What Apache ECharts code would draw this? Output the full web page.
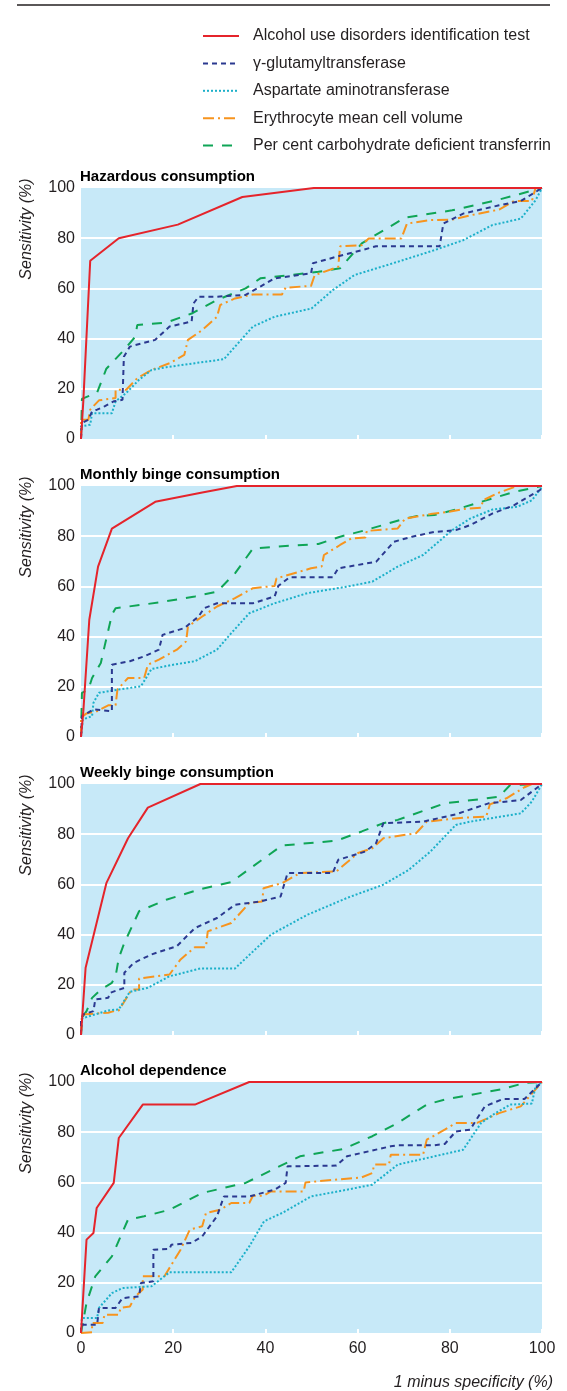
<!DOCTYPE html>
<html>
<head>
<meta charset="utf-8">
<script src="https://cdn.jsdelivr.net/npm/echarts@6/dist/echarts.min.js"></script>
<style>
html,body{margin:0;padding:0;background:#fff;}
#chart{width:567px;height:1391px;}
</style>
</head>
<body>
<div id="chart"></div>
<script>
// ---------- data ----------
const SERIES_NAMES = [
  'Alcohol use disorders identification test',
  'γ-glutamyltransferase',
  'Aspartate aminotransferase',
  'Erythrocyte mean cell volume',
  'Per cent carbohydrate deficient transferrin'
];
const PANEL_TITLES = ['Hazardous consumption', 'Monthly binge consumption', 'Weekly binge consumption', 'Alcohol dependence'];
const X_TICKS = [0, 20, 40, 60, 80, 100];
const Y_TICKS = [0, 20, 40, 60, 80, 100];
const X_TITLE = '1 minus specificity (%)';
const Y_TITLE = 'Sensitivity (%)';

// Hazardous consumption
const haz_audit = [[0,0],[0.5,15],[2,71],[8.2,80],[21,85.4],[35,96.4],[50.5,100],[100,100]];
const haz_ggt = [[0,0],[0.2,6.4],[1.6,7.7],[2.4,11],[3.5,11.7],[5.1,13],[7.1,15],[9,15.6],[9.3,32.8],[10.6,36.8],[13,38],[16.1,39.5],[19.2,44.8],[24,46.8],[24.4,54],[25.5,56.7],[29.5,56.7],[35.7,57.4],[38.9,60.7],[42,64],[49.9,66],[50.3,70],[55.4,72.6],[60.9,75.2],[64,76.8],[77.8,76.8],[78.6,85.8],[82.9,89.8],[90.7,93.1],[95.4,94.8],[100,100]];
const haz_ast = [[0,0],[0,5],[2,5.7],[2.4,10.3],[6.7,10.3],[7.5,15],[9.8,18.3],[12.6,23.6],[15.3,27.5],[18.5,28.6],[24.7,30.2],[31,31.8],[33.4,36.8],[37.3,44.8],[42,48.7],[50,52],[54.6,59.3],[59.3,65.3],[68.7,70.6],[76.6,75.2],[82.9,79.2],[89.2,85.2],[95.4,87.8],[98.6,95.1],[100,100]];
const haz_mcv = [[0,0],[0,7.7],[1.6,7.7],[2,11.7],[3.9,15.4],[7.5,16.3],[7.5,19.6],[9.8,19.6],[12.2,24.2],[15.3,27.5],[19.2,30.2],[22.4,33.5],[23.2,39.5],[26.3,43.4],[29.5,48.7],[30.2,53.4],[33.4,56],[37.3,57.6],[43.6,57.6],[44.4,60.3],[49.9,61],[50.7,65.3],[55.8,68.6],[56.2,76.8],[60.9,77.2],[62.4,79.9],[69.5,79.9],[70.7,85.8],[75.8,87.2],[80.5,87.4],[84.4,89.1],[90.7,91.4],[93.9,94.8],[97.8,94.8],[98.6,100],[100,100]];
const haz_cdt = [[0,0],[0.2,16],[3.5,18.5],[5.5,28],[9,34.8],[11.8,40.8],[12.2,45.4],[18.5,46.4],[24,50],[29.5,55.4],[35.7,60],[38.9,64],[45.2,65.3],[51.5,66.6],[56.2,68],[60.9,77.9],[63.2,80.5],[70.3,88.2],[80.5,91.1],[90.7,95.4],[100,100]];

// Monthly binge consumption
const mon_audit = [[0,0],[0.5,10],[1.8,46.7],[3.7,67.9],[6.7,83],[16.1,93.7],[26.3,97.4],[33.8,100],[100,100]];
const mon_ggt = [[0,0],[0.2,8.3],[2.7,11],[6.7,10.3],[6.7,28.8],[10.6,30.2],[13.7,32.1],[16.9,34.8],[17.7,40.7],[22.4,43.4],[25.5,48],[26.7,51.3],[29.5,53.3],[37.3,53.3],[42,56],[42.8,60.2],[45.2,63.6],[54.6,63.6],[55.8,67.2],[64,69.8],[67.9,77.8],[71.8,79.8],[76.6,81.7],[81.3,82.4],[84.4,84.4],[89.2,89],[93.9,92.3],[100,98.9]];
const mon_ast = [[0,0],[0.4,7],[2.4,8.3],[2.7,13.6],[3.9,17.6],[8.2,18.9],[13,20.2],[15.3,27.1],[20,28.8],[24.7,30.2],[29.5,34.8],[32.6,41.4],[36.5,49.3],[42,53.3],[49.1,57.3],[57.7,59.9],[63.2,61.9],[68.7,67.9],[74.2,72.5],[80.5,82.4],[84.4,87],[89.2,90.6],[94.6,91.7],[97.8,94.3],[100,99.6]];
const mon_mcv = [[0,0],[0,7.7],[1.2,9.4],[3.5,10.3],[5.9,12.6],[7.5,12.6],[7.9,18.9],[10.2,23.5],[13.7,23.5],[14.5,28.8],[16.9,30.8],[20.8,34.8],[22.8,38.1],[23.2,44],[26.3,48],[29.5,52],[33.4,55.3],[37.3,59.3],[42,60.2],[42.4,63.2],[49.9,67.2],[52.2,67.9],[52.7,72.5],[56.2,76.5],[58.6,79.1],[61.7,79.5],[62,82.1],[68.7,83.1],[70.3,87],[75.8,88.8],[79.7,89.7],[83.6,91],[86.8,91.3],[87.2,94.3],[90.7,97.4],[94.6,100],[100,100]];
const mon_cdt = [[0,0],[0.2,17.6],[1.6,18.9],[2.4,23.5],[4.3,29.5],[5.1,36],[6.7,48.7],[7.5,51.3],[16.9,53.6],[24.7,56],[29.5,57.9],[33.4,65.2],[37.3,75.1],[43.6,76],[51.5,76.9],[56.2,79.8],[61.7,82.4],[69.5,86.6],[72.7,88],[76.6,88.4],[82,91],[86.8,93.7],[93.9,97.6],[100,100]];

// Weekly binge consumption
const wk_audit = [[0,0],[1,26.8],[5.5,60.5],[10.2,78.4],[14.5,90.6],[25.9,100],[100,100]];
const wk_ggt = [[0,0],[0,5.6],[0.4,8.2],[2.7,9.5],[3.1,14.2],[5.9,14.8],[6.3,16.8],[9.4,18.8],[9.4,24.8],[11.4,28.7],[15.3,32.1],[20.8,35.4],[24.7,42.6],[29.5,46.6],[33.4,51.9],[38.9,53.2],[43.3,55.2],[44.8,64.5],[54.6,64.5],[55.8,69.8],[61.7,73.1],[64,76.4],[65.6,84.4],[74.2,85],[81.3,87.9],[85.2,90.3],[88.4,92.3],[95.4,93.6],[100,100]];
const wk_ast = [[0,0],[0.2,6.6],[5.9,9.8],[8.2,10.2],[10.6,17.2],[14.5,18.8],[19.2,23.4],[25.9,26.5],[33.4,26.5],[41.2,40],[49.1,47.9],[57.7,54.6],[65.6,59.9],[71.1,65.8],[75.8,73.1],[81.3,83.7],[84.4,85],[95.4,88.3],[97.8,93],[100,100]];
const wk_mcv = [[0,0],[0.2,8.2],[5.9,8.9],[7.1,9.5],[8.2,9.8],[11,18.1],[12.6,18.1],[12.6,22.5],[19.2,24.1],[21.6,30.1],[24.7,35],[27.1,35],[27.5,41.3],[32.6,44.6],[36.5,52.6],[39.3,53.2],[39.6,58.5],[43.6,60.5],[47.5,64.5],[55.4,65.2],[60.1,72.5],[63.2,74.4],[65.6,78.4],[72.7,80.4],[75,85],[82.9,86.6],[87.9,87],[88.7,91.9],[92.3,94.3],[96.2,98.7],[97.8,100],[100,100]];
const wk_cdt = [[0,0],[0.2,6.9],[1.2,9.5],[2.4,14.8],[4.3,18.1],[6.7,20.8],[7.5,23.4],[8.2,30.7],[9.4,36.7],[12.6,49.3],[18.5,53.9],[26.3,58.3],[32.6,60.9],[37.3,67.2],[43.6,75.5],[55.4,77.4],[60.9,81.1],[65.6,84.4],[68.7,85.7],[78.9,92.3],[86.8,94],[90.7,95],[93.1,99.6],[100,100]];

// Alcohol dependence
const dep_audit = [[0,0],[1.2,37.2],[2.7,39.8],[3.4,49.8],[7.1,59.8],[8.2,77.7],[13.4,91],[24.7,91],[36.5,100],[100,100]];
const dep_ggt = [[0,0],[0,3.3],[3.5,3.3],[3.9,10],[7.5,10],[9,13.9],[12.6,14.6],[13,19.9],[15.7,20.6],[15.7,33.2],[19.2,33.5],[19.6,35.2],[24,35.9],[26.3,38.5],[29.5,46.5],[31,54.4],[36.5,54.4],[42,57.1],[44.4,59.8],[44.8,66.4],[55.4,66.7],[57.7,70.4],[67.2,74.4],[68.7,74.8],[76.6,74.8],[78.9,75.3],[81.3,80.3],[84.4,81],[87.6,90.3],[91.5,93.2],[96.2,93.2],[100,100]];
const dep_ast = [[0,0],[0.2,6],[3.5,6],[3.9,10],[6.7,15.9],[9,17.9],[15.3,18.6],[19.2,24.2],[32.6,24.2],[36.5,34.5],[39.7,44.5],[43.6,47.8],[49.9,54.4],[57.7,57.1],[63.2,59.1],[68.7,67.1],[75,69.7],[82.9,73],[86.8,83.7],[89.9,87.6],[93.1,91],[97.8,91.4],[98.6,98.3],[100,100]];
const dep_mcv = [[0,0],[0,0.3],[2.4,0.3],[2.4,4],[4.7,4],[5.1,7.3],[8.2,7.3],[8.6,10],[10.6,10.6],[11.8,14.6],[13.4,17.3],[13.4,22.6],[18.1,22.6],[21.6,33.2],[23.6,41.2],[26.3,42.5],[27.1,47.8],[30.2,49.1],[32.6,51.8],[36.5,51.8],[37.3,54.7],[39.6,54.7],[41.2,56.4],[48.3,56.4],[48.7,60],[60.9,62],[63.2,63.7],[63.6,67.1],[66.8,67.1],[67.2,71],[74.2,71],[75,77],[78.9,81],[81.3,83.7],[85.9,83.7],[88.4,85.7],[90.7,87.6],[95.4,90.3],[100,100]];
const dep_cdt = [[0,0],[1.2,12],[3.1,22.6],[6.7,30.5],[10.2,45.2],[13.7,46.5],[19.2,49.1],[26.3,55.8],[35.7,59.8],[47.5,70.4],[56.9,73.3],[63.2,78.4],[68.7,83.7],[75,91],[78.9,93],[91.5,97.2],[96.2,99.6],[100,100]];

const PANEL_DATA = [
  [haz_audit, haz_ggt, haz_ast, haz_mcv, haz_cdt],
  [mon_audit, mon_ggt, mon_ast, mon_mcv, mon_cdt],
  [wk_audit, wk_ggt, wk_ast, wk_mcv, wk_cdt],
  [dep_audit, dep_ggt, dep_ast, dep_mcv, dep_cdt]
];

// ---------- styles ----------
const FONT = '"Liberation Sans", Arial, sans-serif';
const TEXT_COLOR = '#231f20';
const COLORS = ['#e5242b', '#2b3990', '#1cb0c9', '#f7941e', '#0fa556'];
const DASHES = ['solid', [5, 4], [2, 2], [11, 4, 2, 4], [10, 9]];
const WIDTHS = [2, 2, 2, 2, 2];
const PLOT_LEFT = 81, PLOT_WIDTH = 461, PLOT_HEIGHT = 251;
const PANEL_TOPS = [188, 486, 784, 1082];
const BG = '#c7e9f8';

const grids = [], xAxes = [], yAxes = [], series = [], titles = [], graphics = [];

PANEL_TOPS.forEach((top, p) => {
  const last = p === PANEL_TOPS.length - 1;
  grids.push({
    left: PLOT_LEFT, top: top, width: PLOT_WIDTH, height: PLOT_HEIGHT,
    show: true, backgroundColor: BG, borderWidth: 0
  });
  xAxes.push({
    type: 'value', gridIndex: p, min: X_TICKS[0], max: X_TICKS[X_TICKS.length - 1], interval: 20,
    axisLine: { show: false },
    axisTick: { show: true, inside: true, length: 4, lineStyle: { color: '#ffffff', width: 2 } },
    splitLine: { show: false },
    axisLabel: { show: last, fontSize: 16, color: TEXT_COLOR, fontFamily: FONT, margin: 8 }
  });
  yAxes.push({
    type: 'value', gridIndex: p, min: Y_TICKS[0], max: Y_TICKS[Y_TICKS.length - 1], interval: 20,
    axisLine: { show: false },
    axisTick: { show: false },
    splitLine: { show: true, showMinLine: false, showMaxLine: false, lineStyle: { color: '#ffffff', width: 2 } },
    axisLabel: { fontSize: 16, color: TEXT_COLOR, fontFamily: FONT, margin: 6 }
  });
  titles.push({
    text: PANEL_TITLES[p], left: PLOT_LEFT - 1, top: top - 19,
    textStyle: { fontSize: 15, fontWeight: 'bold', color: '#000', fontFamily: FONT },
    padding: 0
  });
  graphics.push({
    type: 'text', x: 27, y: top + 41, rotation: Math.PI / 2,
    style: { text: Y_TITLE, fill: TEXT_COLOR, font: 'italic 16px ' + FONT,
      textAlign: 'center', textVerticalAlign: 'middle' }
  });
  PANEL_DATA[p].forEach((d, s) => {
    series.push({
      name: SERIES_NAMES[s], type: 'line', xAxisIndex: p, yAxisIndex: p,
      data: d, symbol: 'none', silent: true, animation: false,
      z: 10 - s,
      lineStyle: { color: COLORS[s], width: WIDTHS[s], type: DASHES[s] },
      itemStyle: { color: COLORS[s] }
    });
  });
});

graphics.push({
  type: 'line', shape: { x1: 17, y1: 5, x2: 550, y2: 5 },
  style: { stroke: '#231f20', lineWidth: 1.5 }
});
graphics.push({
  type: 'text', x: 553, y: 1383,
  style: { text: X_TITLE, font: 'italic 16px ' + FONT, fill: TEXT_COLOR, textAlign: 'right', textVerticalAlign: 'middle' }
});

const chart = echarts.init(document.getElementById('chart'), null, { renderer: 'canvas' });
chart.setOption({
  animation: false,
  backgroundColor: '#ffffff',
  title: titles,
  legend: {
    data: SERIES_NAMES, orient: 'vertical', left: 197, top: 23,
    itemWidth: 36, itemHeight: 14, itemGap: 11.4, selectedMode: false,
    itemStyle: { opacity: 0, color: 'transparent', borderColor: 'transparent', borderWidth: 0 },
    textStyle: { fontSize: 16, color: TEXT_COLOR, fontFamily: FONT, lineHeight: 16, padding: [0, 0, 0, 9] }
  },
  grid: grids,
  xAxis: xAxes,
  yAxis: yAxes,
  series: series,
  graphic: graphics
});
</script>
</body>
</html>
